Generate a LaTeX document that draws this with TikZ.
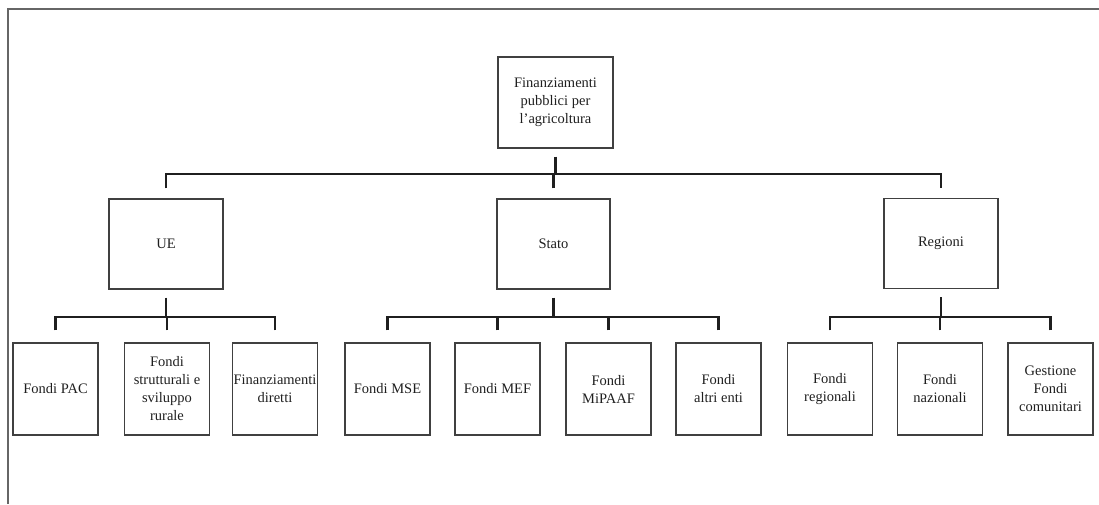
\documentclass[tikz,border=0pt]{standalone}
\usepackage{fontspec}
\setmainfont{Liberation Serif}
\begin{document}
\begin{tikzpicture}[x=1pt,y=-1pt,
  box/.style={draw=black!75, line width=1.1pt, align=center, inner sep=0pt,
    font=\fontsize{14.5}{18}\selectfont, text=black!88},
  topbox/.style={box, minimum width=115pt, minimum height=91pt},
  midbox/.style={box, minimum width=114pt, minimum height=90pt},
  leafbox/.style={box, minimum width=85pt, minimum height=92pt},
  conn/.style={line width=2.6pt, draw=black!88, line join=miter, line cap=butt},
  frameline/.style={line width=2pt, draw=black!60}]
\useasboundingbox (0,0) rectangle (1099,504);
\draw[frameline] (8,504) -- (8,9) -- (1099,9);

\node[topbox] (root) at (555.5,102.5) {Finanziamenti\\pubblici per\\l'agricoltura};

\node[midbox] (ue) at (166,244) {UE};
\node[midbox, minimum width=113pt] (stato) at (553.5,244) {Stato};
\node[midbox] (reg) at (941,243.5) {Regioni};

\node[leafbox] (pac) at (55.5,389) {Fondi PAC};
\node[leafbox] (strut) at (167,389) {Fondi\\strutturali e\\sviluppo\\rurale};
\node[leafbox] (dir) at (275,389) {Finanziamenti\\diretti};
\node[leafbox] (mse) at (387.5,389) {Fondi MSE};
\node[leafbox] (mef) at (497.5,389) {Fondi MEF};
\node[leafbox] (mip) at (608.5,389) {Fondi\\MiPAAF};
\node[leafbox] (altri) at (718.5,389) {Fondi\\altri enti};
\node[leafbox] (regi) at (830,389) {Fondi\\regionali};
\node[leafbox] (naz) at (940,389) {Fondi\\nazionali};
\node[leafbox] (com) at (1050.5,389) {Gestione\\Fondi\\comunitari};

% level 1 connectors
\coordinate (bar0) at (555.5,174);
\draw[conn, shorten <=8pt] (root.south) -- (root.south |- bar0);
\draw[conn, shorten <=10pt] (ue.north) |- (bar0);
\draw[conn, shorten <=10pt] (reg.north) |- (bar0);
\draw[conn, shorten <=10pt] (stato.north) -- (stato.north |- bar0);

% UE children
\coordinate (bar1) at (166,317);
\draw[conn, shorten <=8pt] (ue.south) -- (ue.south |- bar1);
\draw[conn, shorten <=12pt] (pac.north) |- (bar1);
\draw[conn, shorten <=12pt] (dir.north) |- (bar1);
\draw[conn, shorten <=12pt] (strut.north) -- (strut.north |- bar1);

% Stato children
\coordinate (bar2) at (553.5,317);
\draw[conn, shorten <=8pt] (stato.south) -- (stato.south |- bar2);
\draw[conn, shorten <=12pt] (mse.north) |- (bar2);
\draw[conn, shorten <=12pt] (altri.north) |- (bar2);
\draw[conn, shorten <=12pt] (mef.north) -- (mef.north |- bar2);
\draw[conn, shorten <=12pt] (mip.north) -- (mip.north |- bar2);

% Regioni children
\coordinate (bar3) at (941,317);
\draw[conn, shorten <=8pt] (reg.south) -- (reg.south |- bar3);
\draw[conn, shorten <=12pt] (regi.north) |- (bar3);
\draw[conn, shorten <=12pt] (com.north) |- (bar3);
\draw[conn, shorten <=12pt] (naz.north) -- (naz.north |- bar3);
\end{tikzpicture}
\end{document}
